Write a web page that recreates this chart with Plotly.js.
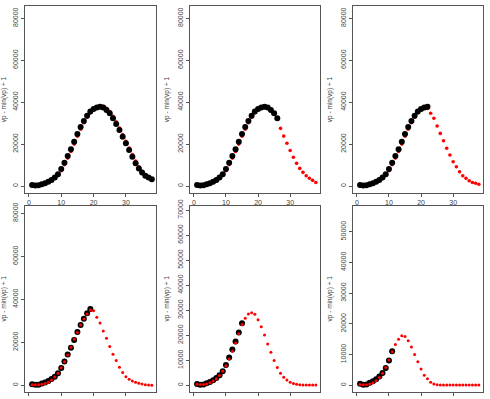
<!DOCTYPE html>
<html>
<head>
<meta charset="utf-8">
<script src="https://cdn.plot.ly/plotly-3.0.1.min.js"></script>
<style>html,body{margin:0;padding:0;background:#fff;}#chart{width:490px;height:399px;}</style>
</head>
<body>
<div id="chart"></div>
<script>
// Day index
const days = [1,2,3,4,5,6,7,8,9,10,11,12,13,14,15,16,17,18,19,20,21,22,23,24,25,26,27,28,29,30,31,32,33,34,35,36,37,38];

// Observed series (black points): vp - min(vp) + 1
const observed = [500,200,300,800,1300,2000,2900,4000,5600,8100,11100,14300,17500,21100,24800,28100,31000,33500,35500,36700,37500,37800,37400,36300,34700,32300,29600,26700,23500,20400,17200,14000,10800,8400,6400,4900,4100,3200];

// Number of observed points used in each panel
const nObserved = [38, 26, 22, 19, 15, 11];

// Fitted series (red points) for each panel
const fit1 = [400,300,300,600,1100,1800,2600,3600,5000,7300,10200,13300,16500,20000,23700,27100,30200,32800,34900,36500,37600,38100,38000,37100,35500,33300,30600,27600,24500,21300,18100,15000,11900,9200,7000,5300,4000,3000];
const fit2 = [400,300,300,600,1100,1800,2600,3600,5000,7300,10200,13300,16500,20000,23700,27100,30200,32800,34900,36500,37600,38000,37600,36500,34700,32300,27500,23800,20400,16900,13700,10800,8400,6500,4900,3700,2700,1700];
const fit3 = [400,300,300,600,1100,1800,2600,3600,5000,7300,10200,13300,16500,20000,23700,27100,30200,32800,34900,36400,37100,37000,34700,32300,28600,25100,21600,18000,14800,11600,9200,6800,4900,3700,2500,1700,1300,800];
const fit4 = [300,200,200,500,800,1400,2500,3900,5600,8200,11000,14100,17700,21400,24600,28000,30800,33200,35000,34700,31600,29000,25300,21900,18000,14400,11500,8400,6000,4000,2800,2000,1400,900,600,300,150,50];
const fit5 = [400,300,300,500,1000,1700,2600,3900,5600,7800,10500,13600,16900,20600,24300,26800,28500,29000,28400,26200,23400,20100,16500,13200,9900,7100,4800,3200,2100,1200,700,400,250,150,100,100,100,100];
const fit6 = [300,200,200,400,800,1500,2500,3900,5800,8200,10900,13300,15000,16100,15900,14500,12500,10000,7700,5300,3300,2100,1000,400,200,100,100,100,100,100,100,100,100,100,100,100,100,100];
const fits = [fit1, fit2, fit3, fit4, fit5, fit6];

// Axis settings per panel
const yRanges = [[-3340, 85870], [-3340, 85870], [-3340, 85870], [-3120, 83630], [-2675, 71800], [-2180, 58530]];
const yDticks = [20000, 20000, 20000, 20000, 10000, 10000];
const xTicks = [0, 10, 20, 30];
const yTitle = 'vp - min(vp) + 1';

const W = 490, H = 399;
const colX = [[25, 156], [190, 320], [353, 483]];
const rowY = [[6, 193], [205.5, 392]];

const traces = [];
const layout = {
  width: W, height: H,
  margin: {l: 0, r: 0, t: 0, b: 0},
  paper_bgcolor: '#fff', plot_bgcolor: '#fff',
  showlegend: false,
  font: {family: 'Liberation Sans, Arial, sans-serif', color: '#333', size: 7}
};

for (let p = 0; p < 6; p++) {
  const r = Math.floor(p / 3), c = p % 3;
  const ax = p === 0 ? '' : String(p + 1);
  const n = nObserved[p];
  const blackTrace = {
    x: days.slice(0, n), y: observed.slice(0, n),
    xaxis: 'x' + ax, yaxis: 'y' + ax,
    type: 'scatter', mode: 'markers',
    marker: {color: '#000', size: 6},
    hoverinfo: 'skip'
  };
  const redTrace = {
    x: days, y: fits[p],
    xaxis: 'x' + ax, yaxis: 'y' + ax,
    type: 'scatter', mode: 'markers',
    marker: {color: '#ff0000', size: r === 0 ? 3.6 : 3},
    hoverinfo: 'skip'
  };
  if (r === 0) { traces.push(redTrace, blackTrace); }
  else { traces.push(blackTrace, redTrace); }
  const common = {
    showgrid: false, zeroline: false,
    showline: true, mirror: true, linecolor: '#555', linewidth: 1,
    ticks: 'outside', ticklen: 3, tickcolor: '#555', tickwidth: 1,
    tickfont: {size: 7, color: '#444'},
    automargin: false
  };
  layout['xaxis' + ax] = Object.assign({}, common, {
    domain: [colX[c][0] / W, colX[c][1] / W],
    range: [-1.2, 39.3],
    tickvals: xTicks,
    showticklabels: r === 0,
    anchor: 'y' + ax
  });
  layout['yaxis' + ax] = Object.assign({}, common, {
    domain: [1 - rowY[r][1] / H, 1 - rowY[r][0] / H],
    range: yRanges[p],
    dtick: yDticks[p], tick0: 0,
    tickangle: -90,
    tickformat: 'd',
    anchor: 'x' + ax,
    title: {text: yTitle, font: {size: 6.5, color: '#444'}, standoff: 6}
  });
}

Plotly.newPlot('chart', traces, layout, {staticPlot: true, displayModeBar: false});
</script>
</body>
</html>
